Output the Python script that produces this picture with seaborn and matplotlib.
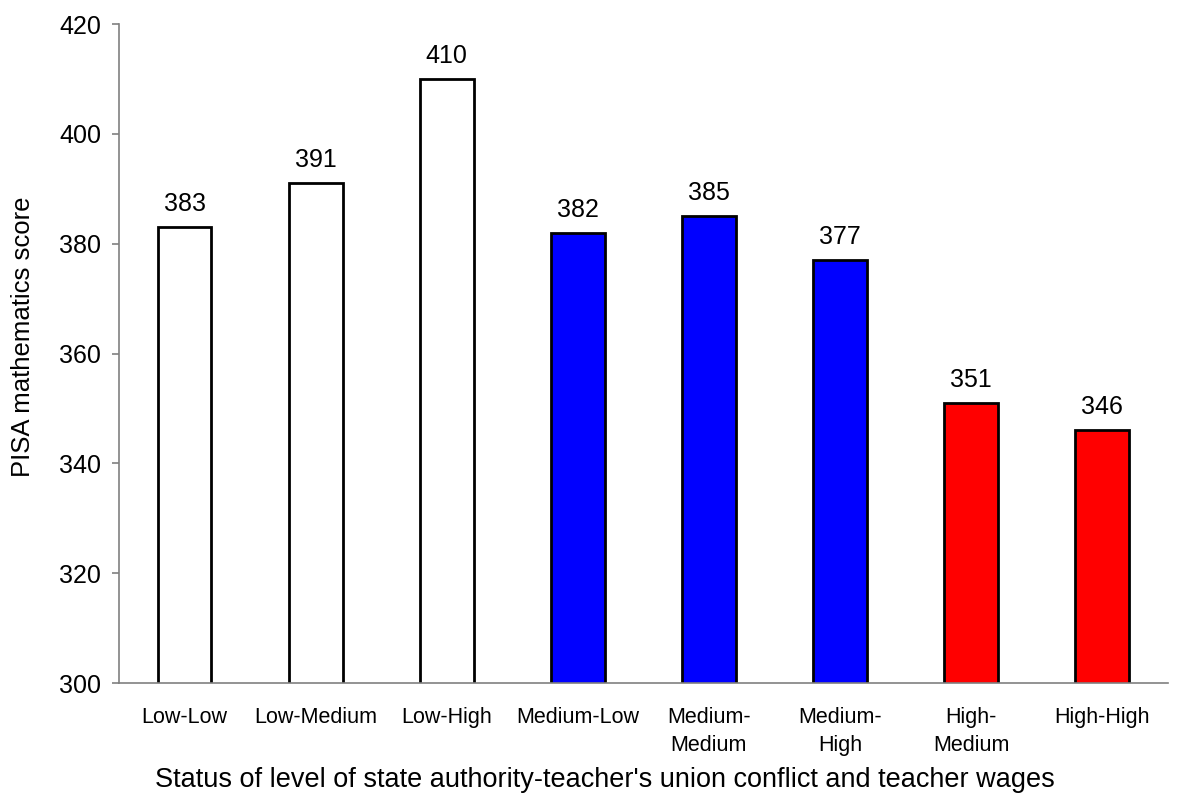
import matplotlib
matplotlib.use("Agg")
import matplotlib.pyplot as plt
import seaborn as sns
import pandas as pd

categories = ["Low-Low", "Low-Medium", "Low-High", "Medium-Low",
              "Medium-\nMedium", "Medium-\nHigh", "High-\nMedium", "High-High"]
scores = [383, 391, 410, 382, 385, 377, 351, 346]
fill_colors = ["#FFFFFF", "#FFFFFF", "#FFFFFF", "#0000FF",
               "#0000FF", "#0000FF", "#FF0000", "#FF0000"]

sns.set_theme(style="white")
plt.rcParams["font.family"] = ["Liberation Sans", "DejaVu Sans"]

df = pd.DataFrame({"category": categories, "score": scores})

fig = plt.figure(figsize=(11.89, 7.93), dpi=100)
ax = fig.add_axes([0.1001, 0.1387, 0.8820, 0.8310])

sns.barplot(data=df, x="category", y="score", hue="category",
            palette=fill_colors, legend=False, width=0.41,
            edgecolor="black", linewidth=2.0, ax=ax, saturation=1)

ax.set_ylim(300, 420)
ax.set_yticks([300, 320, 340, 360, 380, 400, 420])
ax.set_xlim(-0.5, len(categories) - 0.5)

# value labels above each bar
for i, v in enumerate(scores):
    ax.text(i, v + 2.0, f"{v}", ha="center", va="bottom", fontsize=18, color="black")

for side in ["top", "right"]:
    ax.spines[side].set_visible(False)
for side in ["left", "bottom"]:
    ax.spines[side].set_color("#808080")
    ax.spines[side].set_linewidth(1.2)

ax.tick_params(axis="y", which="major", left=True, length=5, width=1.2,
               color="#808080", labelsize=18, pad=8, labelcolor="black")
ax.tick_params(axis="x", bottom=False, labelsize=15.5, pad=11, labelcolor="black")
for lbl in ax.get_xticklabels():
    lbl.set_linespacing(1.45)

ax.set_ylabel("PISA mathematics score", fontsize=18.5, color="black")
ax.yaxis.set_label_coords(-0.080, 0.525)
ax.set_xlabel("Status of level of state authority-teacher's union conflict and teacher wages",
              fontsize=19.5, color="black")
ax.xaxis.set_label_coords(0.463, -0.128)

fig.savefig("out.png", dpi=100)
